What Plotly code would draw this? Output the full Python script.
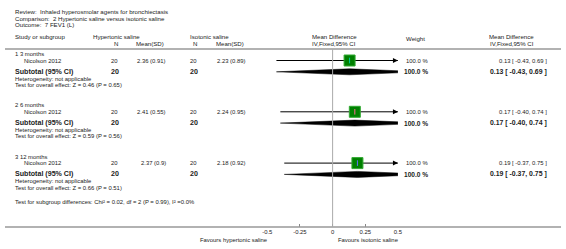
import plotly.graph_objects as go

# ---------------- data ----------------
review = "Review:  Inhaled hyperosmolar agents for bronchiectasis"
comparison = "Comparison:  2 Hypertonic saline versus isotonic saline"
outcome = "Outcome:  7 FEV1 (L)"

groups = ["1 3 months", "2 6 months", "3 12 months"]
studies = ["Nicolson 2012", "Nicolson 2012", "Nicolson 2012"]
hyp_n = [20, 20, 20]
hyp_mean = [2.36, 2.41, 2.37]
hyp_sd = [0.91, 0.55, 0.9]
iso_n = [20, 20, 20]
iso_mean = [2.23, 2.24, 2.18]
iso_sd = [0.89, 0.95, 0.92]
md = [0.13, 0.17, 0.19]
ci_lo = [-0.43, -0.40, -0.37]
ci_hi = [0.69, 0.74, 0.75]
weights = [100.0, 100.0, 100.0]
z_vals = [0.46, 0.59, 0.66]
p_vals = [0.65, 0.56, 0.51]
subgroup_test = "Test for subgroup differences: Chi² = 0.02, df = 2 (P = 0.99), I² =0.0%"
x_ticks = [-0.5, -0.25, 0, 0.25, 0.5]
x_tick_labels = ["-0.5", "-0.25", "0", "0.25", "0.5"]
fav_left = "Favours hypertonic saline"
fav_right = "Favours isotonic saline"

# ---------------- layout helpers ----------------
W, H = 566, 249
Y_TOP, Y_BOT = 49, 227      # pixel extent of forest area
X_L, X_R = 267, 400         # pixel positions of axis range ends
FONT = "Liberation Sans, Arial, sans-serif"
TXT = "#222222"
S_SMALL = 5.9
S_HEAD = 6.1
XMIN, XMAX = x_ticks[0], x_ticks[-1]

def px(x):
    return x / W

def py(y):
    return 1 - y / H

annotations = []

def text(x, y, s, size=S_SMALL, anchor="left", bold=False, color=TXT):
    if bold:
        s = "<b>" + s + "</b>"
    annotations.append(dict(x=px(x), y=py(y), xref="paper", yref="paper", text=s,
                            showarrow=False, xanchor=anchor, yanchor="middle",
                            font=dict(family=FONT, size=size, color=color)))

fig = go.Figure()

# header texts
text(8, 11.5, review, S_HEAD)
text(8, 18.2, comparison, S_HEAD)
text(8, 24.9, outcome, S_HEAD)
text(8, 37, "Study or subgroup", S_HEAD)
text(88, 37, "Hypertonic saline", S_HEAD)
text(117, 43, "N", S_HEAD, "right")
text(164, 43, "Mean(SD)", S_HEAD, "right")
text(186, 37, "Isotonic saline", S_HEAD)
text(197, 43, "N", S_HEAD, "right")
text(245, 43, "Mean(SD)", S_HEAD, "right")
text(335, 37, "Mean Difference", S_HEAD, "center")
text(335, 43, "IV,Fixed,95% CI", S_HEAD, "center")
text(418, 38, "Weight", S_HEAD, "center")
text(516, 37, "Mean Difference", S_HEAD, "center")
text(516, 43, "IV,Fixed,95% CI", S_HEAD, "center")

# rows
G0, GSTEP = 54, 51.3
row_study, row_sub = [], []
for i in range(len(groups)):
    g = G0 + i * GSTEP
    rs, rsub, rh, rt = g + 6.5, g + 17.8, g + 24.6, g + 31
    row_study.append(rs); row_sub.append(rsub)
    text(8, g, groups[i])
    text(17, rs, studies[i])
    text(117, rs, str(hyp_n[i]), anchor="right")
    text(166, rs, f"{hyp_mean[i]:.2f} ({hyp_sd[i]:g})", anchor="right")
    text(197, rs, str(iso_n[i]), anchor="right")
    text(247, rs, f"{iso_mean[i]:.2f} ({iso_sd[i]:.2f})", anchor="right")
    text(433, rs, f"{weights[i]:.1f} %", anchor="right")
    text(554, rs, f"{md[i]:.2f} [ {ci_lo[i]:.2f}, {ci_hi[i]:.2f} ]", anchor="right")
    text(8, rsub, "Subtotal (95% CI)", 7.1, bold=True)
    text(118, rsub, str(hyp_n[i]), 7.1, "right", bold=True)
    text(198, rsub, str(iso_n[i]), 7.1, "right", bold=True)
    text(433, rsub, f"{weights[i]:.1f} %", 6.6, "right", bold=True)
    text(554, rsub, f"{md[i]:.2f} [ {ci_lo[i]:.2f}, {ci_hi[i]:.2f} ]", 6.9, "right", bold=True)
    text(8, rh, "Heterogeneity: not applicable")
    text(8, rt, f"Test for overall effect: Z = {z_vals[i]:.2f} (P = {p_vals[i]:.2f})")

text(8, 202, subgroup_test)
text(270, 240, fav_left, anchor="right")
text(337, 240, fav_right, anchor="left")

# ---------------- forest marks ----------------
DH = 3.0  # diamond half height (pixel units on y axis)
for i in range(len(groups)):
    rs = row_study[i]
    lo_c = max(ci_lo[i], XMIN)
    hi_c = min(ci_hi[i], XMAX)
    # CI line (clipped to axis range)
    fig.add_trace(go.Scatter(x=[lo_c, hi_c], y=[rs, rs], mode="lines",
                             line=dict(color="black", width=1), hoverinfo="skip"))
    # square
    fig.add_trace(go.Scatter(x=[md[i]], y=[rs], mode="markers",
                             marker=dict(symbol="square", size=11, color="#008000",
                                         line=dict(color="#33aa33", width=1)),
                             hoverinfo="skip"))
    fig.add_trace(go.Scatter(x=[md[i]], y=[rs], mode="markers",
                             marker=dict(symbol="line-ns-open", size=4,
                                         line=dict(color="black", width=1)),
                             hoverinfo="skip"))
    # arrow if CI exceeds the axis range
    if ci_hi[i] > XMAX:
        annotations.append(dict(x=XMAX, y=rs, xref="x", yref="y",
                                ax=XMAX - 0.03, ay=rs, axref="x", ayref="y",
                                text="", showarrow=True, arrowhead=2, arrowsize=1,
                                arrowwidth=1, arrowcolor="black", standoff=0))
    # diamond, clipped at the axis end
    rsub = row_sub[i]
    if ci_hi[i] > XMAX:
        he = DH * (ci_hi[i] - XMAX) / (ci_hi[i] - md[i])
        dx = [ci_lo[i], md[i], XMAX, XMAX, md[i], ci_lo[i]]
        dy = [rsub, rsub - DH, rsub - he, rsub + he, rsub + DH, rsub]
    else:
        dx = [ci_lo[i], md[i], ci_hi[i], md[i], ci_lo[i]]
        dy = [rsub, rsub - DH, rsub, rsub + DH, rsub]
    fig.add_trace(go.Scatter(x=dx, y=dy, mode="lines", fill="toself", fillcolor="black",
                             line=dict(color="black", width=0.5), hoverinfo="skip"))

shapes = [
    dict(type="line", xref="paper", yref="paper", x0=0, x1=1, y0=py(Y_TOP), y1=py(Y_TOP),
         line=dict(color="#999999", width=1.5)),
    dict(type="line", xref="paper", yref="paper", x0=0, x1=1, y0=py(Y_BOT), y1=py(Y_BOT),
         line=dict(color="#999999", width=1.5)),
    dict(type="line", xref="x", yref="y", x0=0, x1=0, y0=Y_TOP, y1=Y_BOT,
         line=dict(color="#aaaaaa", width=1)),
]

fig.update_layout(
    width=W, height=H, margin=dict(l=0, r=0, t=0, b=0),
    paper_bgcolor="white", plot_bgcolor="rgba(0,0,0,0)", showlegend=False,
    xaxis=dict(domain=[px(X_L), px(X_R)], range=[XMIN, XMAX],
               tickvals=x_ticks, ticktext=x_tick_labels, ticks="inside", ticklen=3,
               tickcolor="#888888", showgrid=False, zeroline=False, showline=False,
               tickfont=dict(family=FONT, size=S_SMALL, color=TXT), fixedrange=True),
    yaxis=dict(domain=[py(Y_BOT), py(Y_TOP)], range=[Y_BOT, Y_TOP], visible=False,
               fixedrange=True),
    annotations=annotations, shapes=shapes,
)

fig.write_html("out.html", config={"displayModeBar": False},
               post_script="document.body.style.margin='0';document.body.style.padding='0';")
